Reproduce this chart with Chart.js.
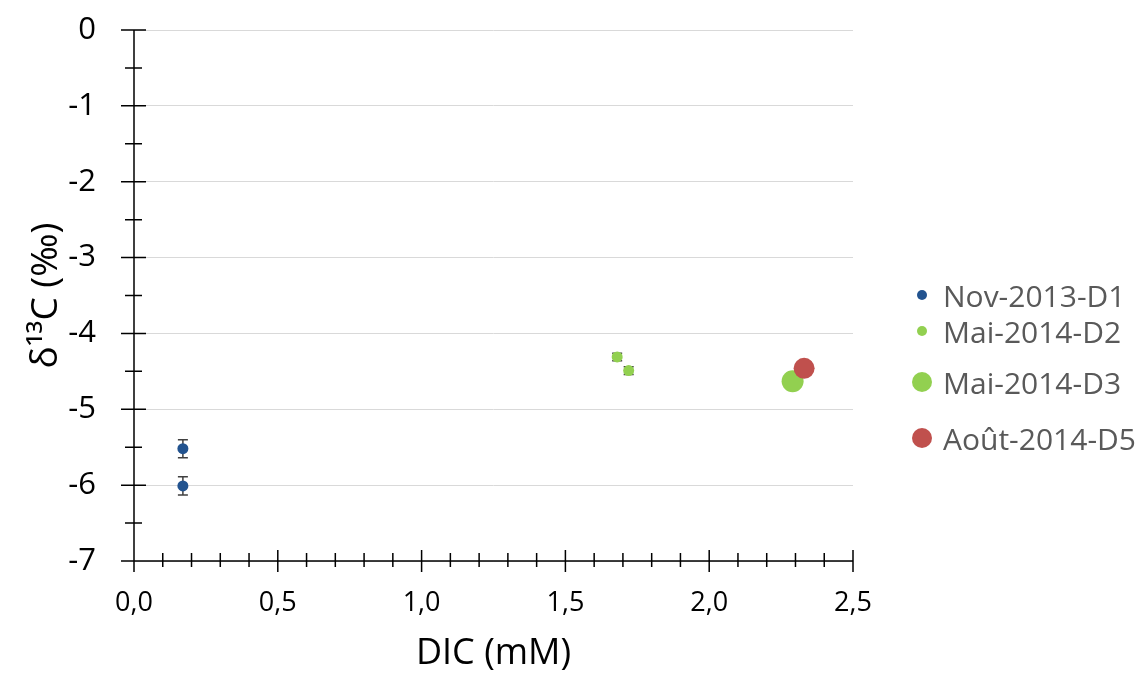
<!DOCTYPE html>
<html>
<head>
<meta charset="utf-8">
<title>δ13C vs DIC</title>
<script src="https://cdn.jsdelivr.net/npm/chart.js@4.4.0/dist/chart.umd.min.js"></script>
<style>
  html, body { margin: 0; padding: 0; background: #fff; }
  #wrap { position: relative; width: 1141px; height: 675px; }
  #legend { position: absolute; left: 0; top: 0; font-family: "Open Sans", sans-serif; font-size: 30px; color: #595959; }
  .item { position: absolute; left: 910px; white-space: nowrap; display: flex; align-items: center; }
  .dot { display: inline-block; border-radius: 50%; }
</style>
</head>
<body>
<div id="wrap">
  <canvas id="chart" width="1141" height="675"></canvas>
  <div id="legend"></div>
</div>
<script>
// séries
const seriesNames = ['Nov-2013-D1', 'Mai-2014-D2', 'Mai-2014-D3', 'Août-2014-D5'];
const seriesColors = ['#22538F', '#92D050', '#92D050', '#C0504D'];

const novDIC = [0.17, 0.17];
const novD13C = [-5.52, -6.01];
const novErr = [0.12, 0.12];

const maiD2DIC = [1.68, 1.72];
const maiD2D13C = [-4.31, -4.49];
const maiD2Err = [0.05, 0.05];

const maiD3DIC = [2.29];
const maiD3D13C = [-4.63];
const maiD3Err = [0];

const aoutDIC = [2.33];
const aoutD13C = [-4.46];
const aoutErr = [0];

const xTicks = [0, 0.5, 1.0, 1.5, 2.0, 2.5];
const yTicks = [0, -1, -2, -3, -4, -5, -6, -7];

function toPoints(xs, ys, errs) {
    return xs.map((x, i) => ({ x: x, y: ys[i], err: errs[i] }));
}

const pointSizes = [5.5, 5.5, 11, 10.5];
const legendSizes = [5, 5, 10, 10];
const legendTops = [295, 331, 382, 438];

const allData = [
    toPoints(novDIC, novD13C, novErr),
    toPoints(maiD2DIC, maiD2D13C, maiD2Err),
    toPoints(maiD3DIC, maiD3D13C, maiD3Err),
    toPoints(aoutDIC, aoutD13C, aoutErr)
];
const drawOrder = [1, 2, 3, 0]; // rouge au-dessus du vert

// axes, graduations et barres d'erreur
const axesPlugin = {
    id: 'axesPlugin',
    beforeDatasetsDraw(chart) {
        const ctx = chart.ctx;
        const xs = chart.scales.x, ys = chart.scales.y;
        const x0 = xs.getPixelForValue(xs.min), x1 = xs.getPixelForValue(xs.max);
        const y0 = ys.getPixelForValue(ys.min), y1 = ys.getPixelForValue(ys.max);
        ctx.save();
        ctx.strokeStyle = '#000';
        ctx.lineWidth = 1.5;
        ctx.beginPath();
        ctx.moveTo(x0, y1); ctx.lineTo(x0, y0);
        ctx.moveTo(x0, y0); ctx.lineTo(x1, y0);
        // graduations Y
        for (let v = ys.min; v <= ys.max + 1e-9; v += 0.5) {
            const py = ys.getPixelForValue(v);
            const major = Math.abs(v - Math.round(v)) < 1e-6;
            ctx.moveTo(x0 - (major ? 13 : 9), py);
            ctx.lineTo(x0 + (major ? 12 : 8), py);
        }
        // graduations X
        for (let i = 0; i <= Math.round((xs.max - xs.min) / 0.1); i++) {
            const v = xs.min + i * 0.1;
            const px = xs.getPixelForValue(v);
            const major = i % 5 === 0;
            ctx.moveTo(px, y0 - (major ? 11 : 8));
            ctx.lineTo(px, y0 + (major ? 11 : 6));
        }
        ctx.stroke();

        // barres d'erreur
        ctx.strokeStyle = '#404040';
        ctx.lineWidth = 1.5;
        chart.data.datasets.forEach(ds => {
            ds.data.forEach(p => {
                if (!p.err) return;
                const px = xs.getPixelForValue(p.x);
                const pt = ys.getPixelForValue(p.y + p.err);
                const pb = ys.getPixelForValue(p.y - p.err);
                ctx.beginPath();
                ctx.moveTo(px, pt); ctx.lineTo(px, pb);
                ctx.moveTo(px - 5, pt); ctx.lineTo(px + 5, pt);
                ctx.moveTo(px - 5, pb); ctx.lineTo(px + 5, pb);
                ctx.stroke();
            });
        });
        ctx.restore();
    }
};

const ctx = document.getElementById('chart').getContext('2d');
new Chart(ctx, {
    type: 'scatter',
    data: {
        datasets: seriesNames.map((name, i) => ({
            label: name,
            data: allData[i],
            backgroundColor: seriesColors[i],
            borderColor: seriesColors[i],
            borderWidth: 0,
            pointRadius: pointSizes[i],
            pointHoverRadius: pointSizes[i],
            order: drawOrder[i]
        }))
    },
    options: {
        responsive: false,
        animation: false,
        layout: { padding: { top: 30, right: 288, left: 0, bottom: 0 } },
        plugins: {
            legend: { display: false },
            tooltip: { enabled: false }
        },
        scales: {
            x: {
                type: 'linear',
                min: 0,
                max: 2.5,
                afterFit: s => { s.height = 114; s.paddingLeft = 0; s.paddingRight = 0; },
                afterBuildTicks: s => { s.ticks = xTicks.map(v => ({ value: v })); },
                grid: { display: false, drawTicks: false },
                border: { display: false },
                ticks: {
                    color: '#000',
                    padding: 26,
                    font: { family: 'Open Sans', size: 27 },
                    callback: v => v.toFixed(1).replace('.', ',')
                },
                title: {
                    display: true,
                    text: 'DIC (mM)',
                    color: '#000',
                    font: { family: 'Open Sans', size: 36 },
                    padding: { top: 0, bottom: 0 }
                }
            },
            y: {
                type: 'linear',
                min: -7,
                max: 0,
                afterFit: s => { s.width = 134; s.paddingTop = 0; s.paddingBottom = 0; },
                afterBuildTicks: s => { s.ticks = yTicks.map(v => ({ value: v })); },
                grid: { color: '#D9D9D9', lineWidth: 1, drawTicks: false },
                border: { display: false },
                ticks: {
                    color: '#000',
                    padding: 38,
                    font: { family: 'Open Sans', size: 31 },
                    callback: v => String(v)
                },
                title: {
                    display: true,
                    text: 'δ¹³C (‰)',
                    color: '#000',
                    font: { family: 'Open Sans', size: 37 },
                    padding: { top: 24, bottom: 0 }
                }
            }
        }
    },
    plugins: [axesPlugin]
});

// légende HTML
const legend = document.getElementById('legend');
seriesNames.forEach((name, i) => {
    const item = document.createElement('div');
    item.className = 'item';
    item.style.top = (legendTops[i] - 21) + 'px';
    item.style.height = '42px';
    const dot = document.createElement('span');
    dot.className = 'dot';
    const d = legendSizes[i] * 2;
    dot.style.width = d + 'px';
    dot.style.height = d + 'px';
    dot.style.background = seriesColors[i];
    dot.style.marginLeft = (12 - legendSizes[i]) + 'px';
    dot.style.marginRight = (21 - legendSizes[i]) + 'px';
    item.appendChild(dot);
    item.appendChild(document.createTextNode(name));
    legend.appendChild(item);
});
</script>
</body>
</html>
